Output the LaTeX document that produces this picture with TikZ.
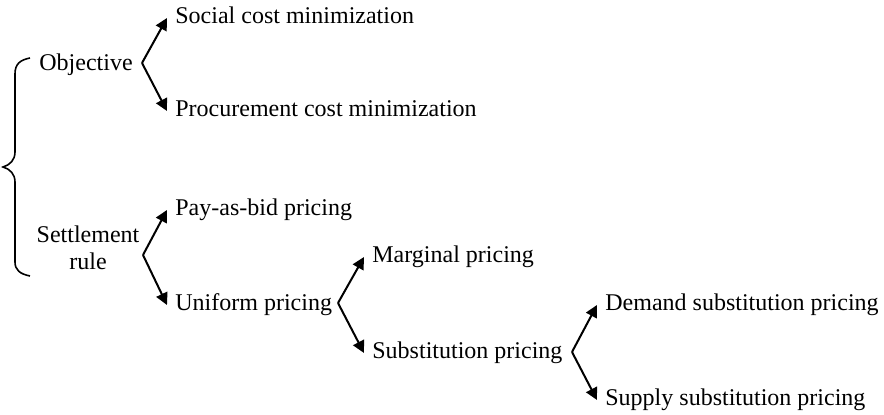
\documentclass[tikz,border=0pt]{standalone}
\usepackage{fontspec}
\setmainfont{Liberation Serif}
\usetikzlibrary{arrows.meta}
\tikzset{
    item/.style={anchor=west,inner sep=4pt,text height=8pt,text depth=2.5pt},
    branch/.style={-{Triangle[length=6pt,width=6pt]},line width=1pt}
}
\begin{document}
\begin{tikzpicture}[x=0.5pt,y=-0.5pt,font=\fontsize{12}{13.6}\selectfont]
    \useasboundingbox (0,0) rectangle (884,415);
    % the big brace
    \draw[line width=0.8pt] (30,58) .. controls (20,60) and (15,64) .. (15,74) -- (15,152)
        .. controls (15,160) and (10,165) .. (3,167) .. controls (10,169) and (15,174) .. (15,182)
        -- (15,262) .. controls (15,270) and (20,274) .. (30,276);
    % first level
    \node (obj) at (86,65) [inner sep=4pt,text height=8pt,text depth=2.5pt] {Objective};
    \node (set) at (88,248) [align=center,inner sep=4pt] {Settlement\\rule};
    \node[item] (soc) at (167,18) {Social cost minimization};
    \node[item] (pro) at (167,111) {Procurement cost minimization};
    \node[item] (pay) at (167,210) {Pay-as-bid pricing};
    \node[item] (uni) at (167,305) {Uniform pricing};
    \node[item] (mar) at (364,257) {Marginal pricing};
    \node[item] (sub) at (364,353) {Substitution pricing};
    \node[item] (dem) at (597,305) {Demand substitution pricing};
    \node[item] (sup) at (597,400) {Supply substitution pricing};
    % forks
    \coordinate (objfork) at (142,63);
    \coordinate (setfork) at (143,255);
    \coordinate (unifork) at (338,303);
    \coordinate (subfork) at (572,352);
    \foreach\f/\a/\b in{objfork/soc/pro,setfork/pay/uni,unifork/mar/sub,subfork/dem/sup}{
        \draw[branch] (\f) -- (\a.west);
        \draw[branch] (\f) -- (\b.west);
    }
\end{tikzpicture}
\end{document}
